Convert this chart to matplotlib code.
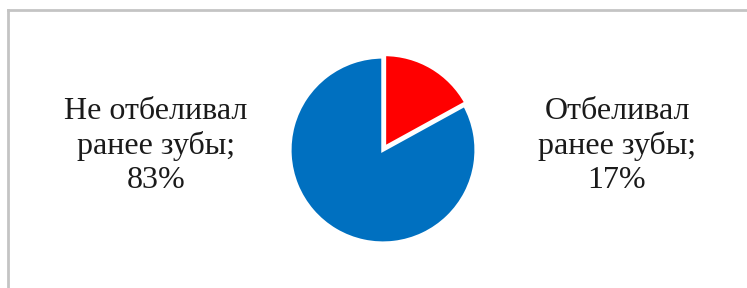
import matplotlib.pyplot as plt
from matplotlib.lines import Line2D

labels = ['Отбеливал\nранее зубы;\n17%', 'Не отбеливал\nранее зубы;\n83%']
values = [17, 83]
colors = ['#FF0000', '#0070C0']

W, H = 747, 288
fig = plt.figure(figsize=(W / 100, H / 100), dpi=100)
fig.patch.set_facecolor('white')

# pie centre ~ (383,150) px, radius ~94 px
cx, cy, r = 383, 150, 95
ax = fig.add_axes([(cx - r) / W, (H - cy - r) / H, 2 * r / W, 2 * r / H])
ax.pie(values, colors=colors, startangle=90, counterclock=False,
       explode=[0.03, 0], radius=1,
       wedgeprops=dict(edgecolor='white', linewidth=2.5))
ax.set_xlim(-1.02, 1.02)
ax.set_ylim(-1.02, 1.02)
ax.set_aspect('equal')
ax.axis('off')

font = dict(family='Liberation Serif', size=23, ha='center', va='center',
            linespacing=1.22, color='#1a1a1a')
fig.text(156 / W, 1 - 146 / H, labels[1], **font)
fig.text(617 / W, 1 - 146 / H, labels[0], **font)

# frame border (top and left visible)
bc = '#c4c4c4'
fig.add_artist(Line2D([8 / W, 1], [1 - 10 / H, 1 - 10 / H], color=bc, lw=2,
                      transform=fig.transFigure))
fig.add_artist(Line2D([8 / W, 8 / W], [0, 1 - 10 / H], color=bc, lw=2,
                      transform=fig.transFigure))

fig.savefig('out.png', dpi=100)
